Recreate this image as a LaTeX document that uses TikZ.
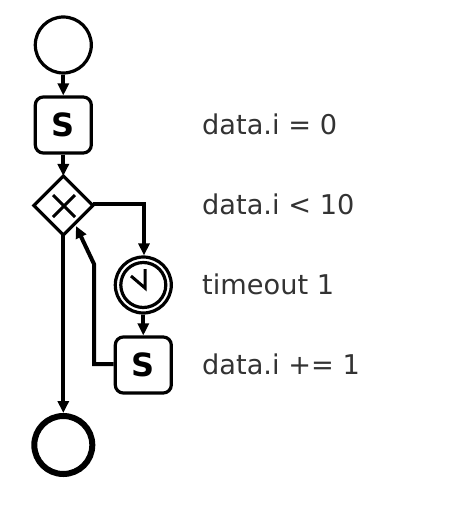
\documentclass[tikz,border=0pt]{standalone}
\usepackage{fontspec}
\setmainfont{DejaVu Sans}
\usetikzlibrary{arrows.meta,shapes.geometric}
\definecolor{lbl}{HTML}{333333}
\tikzset{
  evt/.style={circle,draw=black,line width=3.2pt,minimum size=56pt,inner sep=0pt},
  endevt/.style={circle,draw=black,line width=6pt,minimum size=58pt,inner sep=0pt},
  taskbox/.style={rectangle,rounded corners=8pt,draw=black,line width=3.2pt,minimum size=56pt,inner sep=0pt,font=\fontsize{32}{32}\selectfont\bfseries},
  gate/.style={diamond,aspect=1,draw=black,line width=3.2pt,minimum size=59pt,inner sep=0pt,outer sep=0pt},
  flow/.style={line width=4pt,-{Triangle[length=12pt,width=11pt]}},
  lab/.style={anchor=west,text=lbl,inner sep=0pt,font=\fontsize{27.2}{30}\selectfont},
  gatemark/.style={line width=3pt}
}
\begin{document}
\begin{tikzpicture}[x=1pt,y=-1pt]
\useasboundingbox (0,0) rectangle (452,524);
\node[evt] (start) at (63.3,45) {};
\node[taskbox] (t1) at (63.3,125) {S};
\node[gate] (g) at (63.3,205.5) {};
\node[evt] (tm) at (143.3,285) {};
\node[circle,draw=black,line width=3.2pt,minimum size=45pt,inner sep=0pt] (tmi) at (143.3,285) {};
\node[taskbox] (t2) at (143.3,365) {S};
\node[endevt] (e) at (63.3,445) {};
\coordinate (k1) at (144,204);
\coordinate (k2) at (94,364);
\coordinate (k3) at (94,264);
\coordinate (k4) at (76,226);
\draw[flow] (start) -- (t1);
\draw[flow] (t1) -- (g);
\draw[flow] (g.south) -- (e);
\draw[flow] (g.east) ++(0,-2) -| (tm.north -| k1);
\draw[flow] (tm) -- (t2);
\draw[flow] (t2.west |- k2) -- (k2) -- (k3) -- (k4);
\draw[gatemark] (53,195) -- (75,217);
\draw[gatemark] (75,195) -- (53,217);
\coordinate (c) at (145,288);
\draw[line width=3pt] (131,276) -- (c) -- (145,269);
\node[lab] (l1) at (202,124.5) {data.i = 0};
\node[lab] (l2) at (202,204.5) {data.i < 10};
\node[lab] (l3) at (202,284.5) {timeout 1};
\node[lab] (l4) at (202,364.5) {data.i += 1};
\end{tikzpicture}
\end{document}
